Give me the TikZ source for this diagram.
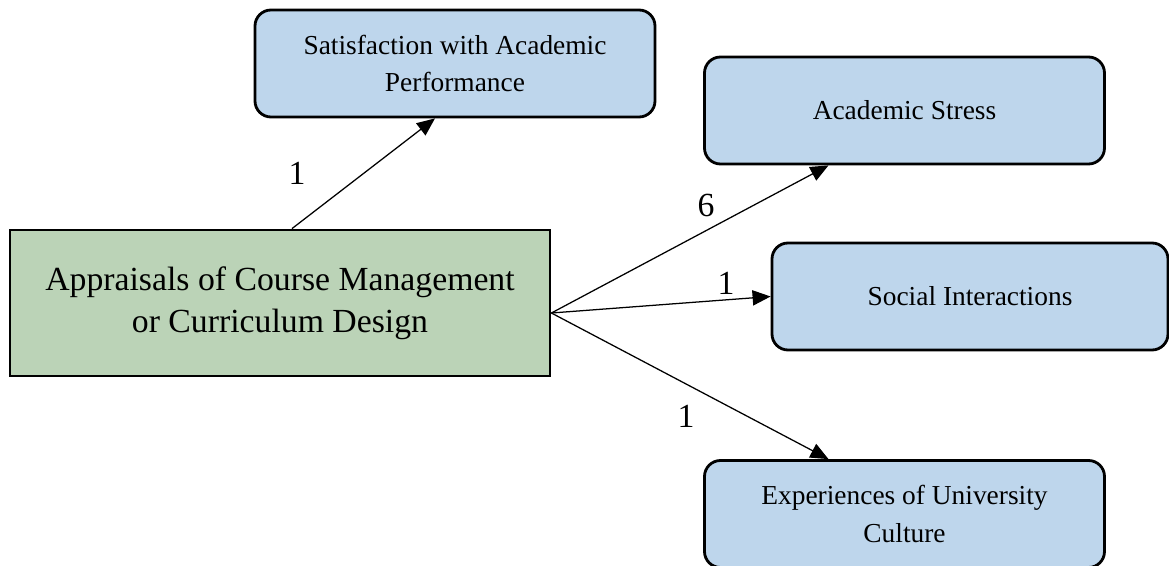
\documentclass[tikz,border=0pt]{standalone}
\usepackage{fontspec}
\setmainfont{Liberation Serif}
\usetikzlibrary{arrows.meta}
\definecolor{boxblue}{RGB}{190,214,236}
\definecolor{boxgreen}{RGB}{187,211,183}
\tikzset{
  outcome/.style={draw, line width=2pt, rounded corners=0.4cm, fill=boxblue,
    minimum width=10cm, minimum height=2.675cm, align=center,
    font=\fontsize{19.5}{26.5}\selectfont, inner sep=0pt},
  appraisal/.style={draw, line width=2pt, fill=boxgreen,
    minimum width=13.5cm, minimum height=3.65cm, align=center,
    font=\fontsize{24}{30}\selectfont, inner sep=0pt},
  link/.style={line width=0.9pt, -{Triangle[length=0.45cm,width=0.38cm]}},
  count/.style={font=\fontsize{24}{24}\selectfont, inner sep=0pt}
}
\begin{document}
\begin{tikzpicture}
\useasboundingbox (0,0) rectangle (29.225,-14.15);
%boxes
\node[appraisal] (main) at (7,-7.575) {Appraisals of Course Management\\or Curriculum Design};
\node[outcome] (sat) at (11.375,-1.5875) {Satisfaction with Academic\\Performance};
\node[outcome] (stress) at (22.6125,-2.7625) {Academic Stress};
\node[outcome, minimum width=9.9cm] (social) at (24.25,-7.4125) {Social Interactions};
\node[outcome] (culture) at (22.6125,-12.85) {Experiences of University\\Culture};
%links
\draw[link] ([xshift=0.3cm]main.north) -- ([xshift=-0.5cm]sat.south);
\draw[link] ([yshift=-0.25cm]main.east) -- ([xshift=-1.9cm]stress.south);
\draw[link] ([yshift=-0.25cm]main.east) -- (social.west);
\draw[link] ([yshift=-0.25cm]main.east) -- ([xshift=-1.9cm]culture.north);
%counts
\node[count] (n1) at (7.425,-4.325) {1};
\node[count] (n2) at (17.65,-5.125) {6};
\node[count] (n3) at (18.15,-7.075) {1};
\node[count] (n4) at (17.15,-10.4) {1};
\end{tikzpicture}
\end{document}
